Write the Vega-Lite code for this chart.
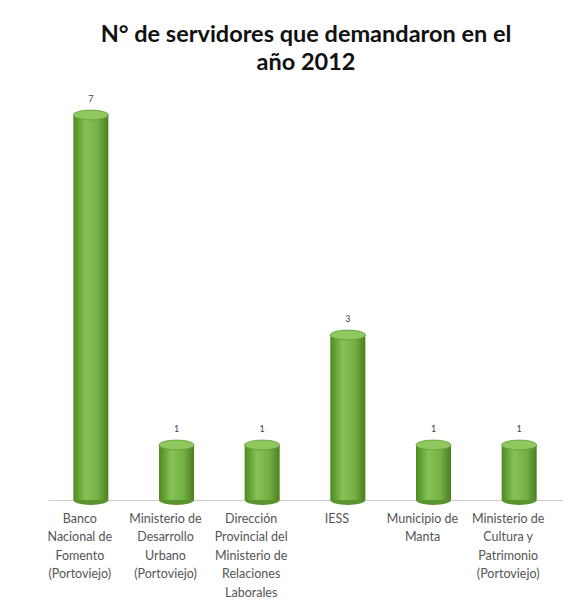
{
  "$schema": "https://vega.github.io/schema/vega-lite/v6.json",
  "autosize": {"type": "none"},
  "width": 514,
  "height": 407,
  "padding": {"left": 48, "top": 93, "right": 23, "bottom": 108},
  "background": "white",
  "title": {
    "text": ["N° de servidores que demandaron en el", "año 2012"],
    "font": "Lato",
    "fontSize": 23.5,
    "fontWeight": "bold",
    "color": "#111111",
    "lineHeight": 28,
    "anchor": "middle",
    "offset": 19,
    "dx": 1
  },
  "data": {
    "values": [
      {"entidad": "Banco|Nacional de|Fomento|(Portoviejo)", "n": 7},
      {"entidad": "Ministerio de|Desarrollo|Urbano|(Portoviejo)", "n": 1},
      {"entidad": "Dirección|Provincial del|Ministerio de|Relaciones|Laborales", "n": 1},
      {"entidad": "IESS", "n": 3},
      {"entidad": "Municipio de|Manta", "n": 1},
      {"entidad": "Ministerio de|Cultura y|Patrimonio|(Portoviejo)", "n": 1}
    ]
  },
  "encoding": {
    "x": {
      "field": "entidad",
      "type": "nominal",
      "sort": null,
      "axis": {
        "title": null,
        "labelAngle": 0,
        "labelExpr": "split(datum.label, '|')",
        "labelFont": "Lato",
        "labelFontSize": 12.5,
        "labelColor": "#555555",
        "labelLineHeight": 18.5,
        "labelPadding": 12,
        "labelOffset": -11,
        "ticks": false,
        "domain": true,
        "domainColor": "#cccccc",
        "labelLimit": 200
      }
    },
    "y": {
      "field": "n",
      "type": "quantitative",
      "scale": {"domain": [0, 7.4]},
      "axis": null
    }
  },
  "layer": [
    {
      "mark": {
        "type": "bar",
        "size": 35,
        "color": {
          "x1": 0, "y1": 0, "x2": 1, "y2": 0,
          "gradient": "linear",
          "stops": [
            {"offset": 0, "color": "#4c8a1e"},
            {"offset": 0.35, "color": "#86c257"},
            {"offset": 0.7, "color": "#74b044"},
            {"offset": 1, "color": "#4a7f1f"}
          ]
        }
      }
    },
    {
      "mark": {
        "type": "point",
        "shape": "M-1,0 A1,0.28 0 1,0 1,0 A1,0.28 0 1,0 -1,0 Z",
        "size": 1225,
        "filled": true,
        "color": "#8ec85f",
        "stroke": "#5f9a33",
        "strokeWidth": 0.8,
        "opacity": 1
      }
    },
    {
      "mark": {
        "type": "point",
        "shape": "M-1,0 A1,0.28 0 1,0 1,0 Z",
        "size": 1225,
        "filled": true,
        "color": "#5a9430",
        "opacity": 1
      },
      "encoding": {"y": {"datum": 0}}
    },
    {
      "mark": {
        "type": "text",
        "dy": -16,
        "font": "Lato",
        "fontSize": 9,
        "color": "#444444"
      },
      "encoding": {"text": {"field": "n", "type": "quantitative"}}
    }
  ],
  "config": {"view": {"stroke": null}}
}
